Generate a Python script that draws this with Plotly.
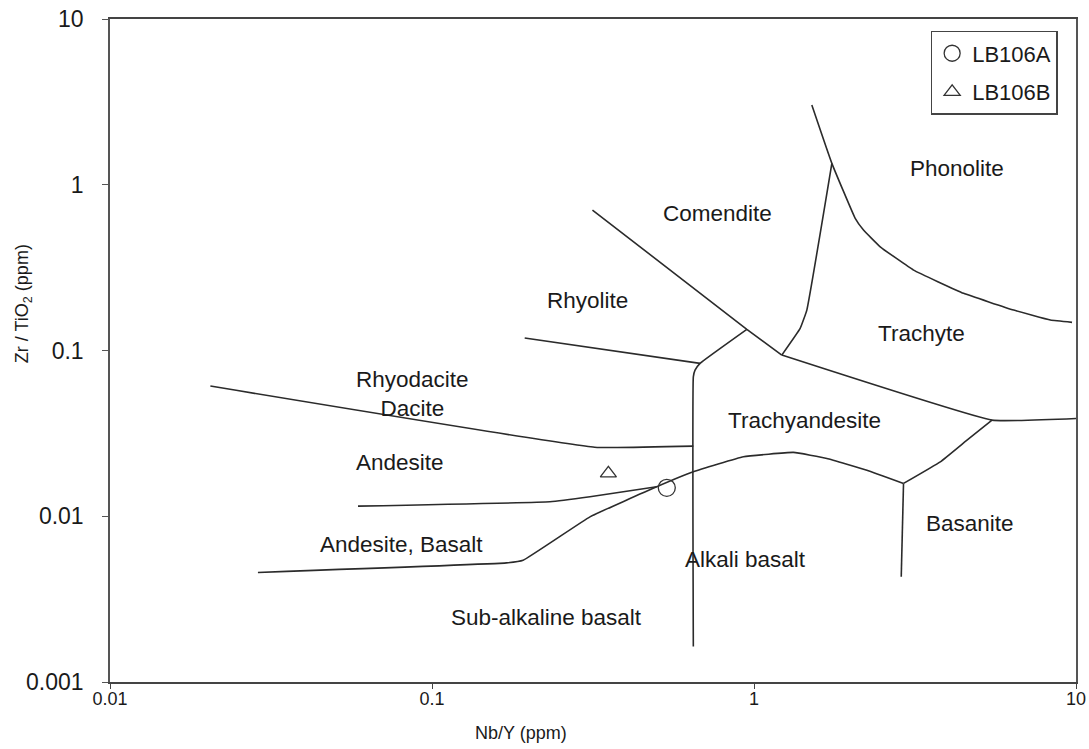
import numpy as np
import plotly.graph_objects as go

# ---- Boundary lines of the Nb/Y vs Zr/TiO2 classification diagram (data units) ----
comendite_rhyolite_x = [0.315, 0.95, 1.22]
comendite_rhyolite_y = [0.704, 0.134, 0.0938]

rhyolite_rhyodacite_x = [0.194, 0.68]
rhyolite_rhyodacite_y = [0.119, 0.0836]

trachyandesite_west_x = [0.95, 0.68, 0.656, 0.648, 0.648]
trachyandesite_west_y = [0.134, 0.0836, 0.0762, 0.0694, 0.00164]

rhyodacite_andesite_x = [0.0205, 0.32, 0.648]
rhyodacite_andesite_y = [0.061, 0.0261, 0.0265]

andesite_andbasalt_x = [0.0589, 0.2324, 0.3094, 0.4986]
andesite_andbasalt_y = [0.01151, 0.01222, 0.0131, 0.01505]

subalkaline_x = [0.0288, 0.1704, 0.1919, 0.3094, 0.4986, 0.648, 0.927, 1.326, 1.684, 2.242, 2.913]
subalkaline_y = [0.00458, 0.00523, 0.00543, 0.00992, 0.01505, 0.01853, 0.02283, 0.02427, 0.02233, 0.01897, 0.01578]

basanite_west_x = [2.913, 2.866]
basanite_west_y = [0.01578, 0.00431]

basanite_north_x = [2.913, 3.789, 4.586, 5.485]
basanite_north_y = [0.01578, 0.0213, 0.02879, 0.038]

trachyte_south_x = [1.22, 5.485, 10.0]
trachyte_south_y = [0.0938, 0.038, 0.0389]

trachyte_comendite_x = [1.22, 1.391, 1.459, 1.745]
trachyte_comendite_y = [0.0938, 0.1359, 0.1753, 1.346]

phonolite_x = [1.512, 1.745, 2.062, 2.188, 2.466, 3.13, 4.477, 6.404, 8.325, 9.72]
phonolite_y = [3.027, 1.346, 0.627, 0.533, 0.4224, 0.3056, 0.2212, 0.1753, 0.1526, 0.1478]

# ---- Samples ----
sample_names = ["LB106A", "LB106B"]
sample_x = [0.536, 0.353]
sample_y = [0.01484, 0.01813]
sample_symbols = ["circle-open", "triangle-up-open"]
sample_sizes = [17, 14]

# ---- Field labels ----
label_text = ["Phonolite", "Comendite", "Rhyolite", "Trachyte", "Rhyodacite<br>Dacite",
              "Trachyandesite", "Andesite", "Andesite, Basalt", "Basanite",
              "Alkali basalt", "Sub-alkaline basalt"]
label_x = [4.28, 0.768, 0.305, 3.31, 0.0872, 1.431, 0.0794, 0.0805, 4.70, 0.938, 0.2275]
label_y = [1.26, 0.675, 0.199, 0.127, 0.0546, 0.038, 0.0212, 0.00679, 0.00909, 0.00551, 0.00246]

# ---- Axis ticks and titles ----
x_tickvals = [0.01, 0.1, 1, 10]
x_ticktext = ["0.01", "0.1", "1", "10"]
y_tickvals = [0.001, 0.01, 0.1, 1, 10]
y_ticktext = ["0.001", "0.01", "0.1", "1", "10"]
x_title = "Nb/Y (ppm)"
y_title = "Zr / TiO<sub>2</sub> (ppm)"

FONT = "Arial, Liberation Sans, sans-serif"
LINE_COLOR = "#2b2b2b"

fig = go.Figure()

lines = [
    (comendite_rhyolite_x, comendite_rhyolite_y),
    (rhyolite_rhyodacite_x, rhyolite_rhyodacite_y),
    (trachyandesite_west_x, trachyandesite_west_y),
    (rhyodacite_andesite_x, rhyodacite_andesite_y),
    (andesite_andbasalt_x, andesite_andbasalt_y),
    (subalkaline_x, subalkaline_y),
    (basanite_west_x, basanite_west_y),
    (basanite_north_x, basanite_north_y),
    (trachyte_south_x, trachyte_south_y),
    (trachyte_comendite_x, trachyte_comendite_y),
    (phonolite_x, phonolite_y),
]
for lx, ly in lines:
    fig.add_trace(go.Scatter(x=lx, y=ly, mode="lines", showlegend=False,
                             hoverinfo="skip",
                             line=dict(color=LINE_COLOR, width=1.6, shape="spline", smoothing=0.3)))

for name, sx, sy, sym, sz in zip(sample_names, sample_x, sample_y, sample_symbols, sample_sizes):
    fig.add_trace(go.Scatter(x=[sx], y=[sy], mode="markers", name=name, legendgroup=name,
                             marker=dict(symbol=sym, size=sz, color="#333333",
                                         line=dict(width=1.3, color="#333333"))))

for t, lx, ly in zip(label_text, label_x, label_y):
    fig.add_annotation(x=np.log10(lx), y=np.log10(ly), xref="x", yref="y",
                       text=t, showarrow=False,
                       font=dict(family=FONT, size=22.5, color="#1a1a1a"))

# axis titles (placed as in the reference, off-centre)
fig.add_annotation(x=0.4255, y=-0.077, xref="paper", yref="paper", text=x_title,
                   showarrow=False, xanchor="center", yanchor="middle",
                   font=dict(family=FONT, size=18, color="#1a1a1a"))
fig.add_annotation(x=-0.090, y=0.570, xref="paper", yref="paper", text=y_title,
                   showarrow=False, xanchor="center", yanchor="middle", textangle=-90,
                   font=dict(family=FONT, size=18, color="#1a1a1a"))

fig.update_layout(
    width=1089, height=749,
    margin=dict(l=110, r=13, t=19, b=67),
    paper_bgcolor="white", plot_bgcolor="white",
    font=dict(family=FONT, color="#1a1a1a"),
    showlegend=True,
    legend=dict(x=0.981, y=0.982, xanchor="right", yanchor="top",
                bgcolor="white", bordercolor="#444444", borderwidth=1.5,
                font=dict(family=FONT, size=22, color="#1a1a1a"),
                itemwidth=30, tracegroupgap=7),
    xaxis=dict(type="log", range=[-2, 1], tickvals=x_tickvals, ticktext=x_ticktext,
               automargin=False,
               showgrid=False, zeroline=False, showline=True, linecolor="#444444",
               linewidth=1.5, mirror=True, ticks="outside", ticklen=5, tickcolor="#444444",
               tickfont=dict(family=FONT, size=18, color="#1a1a1a"),
               ticklabelstandoff=-5),
    yaxis=dict(type="log", range=[-3, 1], tickvals=y_tickvals, ticktext=y_ticktext,
               automargin=False,
               showgrid=False, zeroline=False, showline=True, linecolor="#555555",
               linewidth=1.5, mirror=True, ticks="outside", ticklen=6, tickcolor="#555555",
               tickfont=dict(family=FONT, size=23, color="#1a1a1a"),
               ticklabelstandoff=14),
)

fig.write_html("out.html", config={"displayModeBar": False},
               post_script="document.body.style.margin='0';document.body.style.padding='0';")
